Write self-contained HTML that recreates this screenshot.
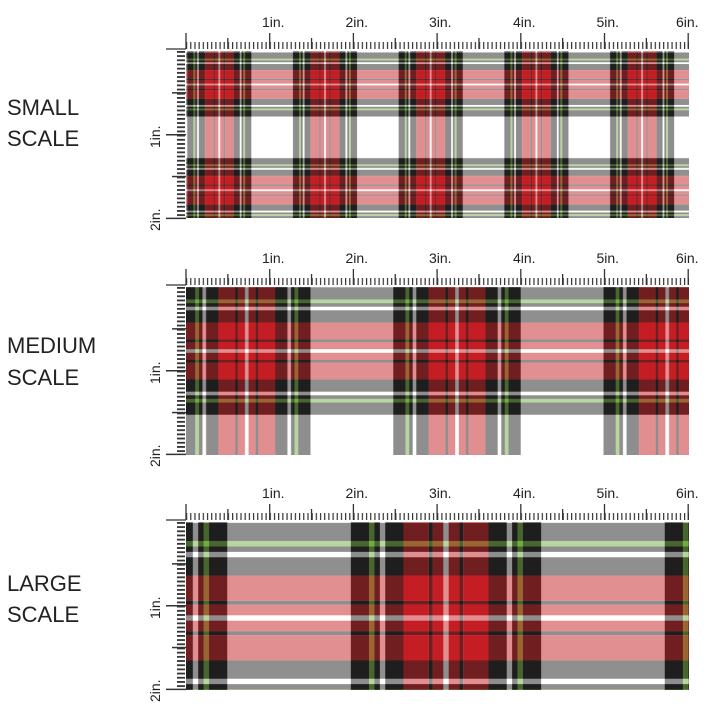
<!DOCTYPE html>
<html><head><meta charset="utf-8"><style>
html,body{margin:0;padding:0;background:#fff;}
svg{display:block;}
text{font-family:"Liberation Sans",sans-serif;fill:#222;}
</style></head><body>
<svg width="720" height="720" viewBox="0 0 720 720" xmlns="http://www.w3.org/2000/svg">
<defs>
<g id="v">
<rect x="0" y="0" width="292" height="292" fill="#fff"/>
<rect x="2.5" y="0" width="10" height="292" fill="#c41e24"/>
<rect x="12.5" y="0" width="3.5" height="292" fill="#1e1e1e"/>
<rect x="16" y="0" width="23.5" height="292" fill="#c41e24"/>
<rect x="39.5" y="0" width="17" height="292" fill="#1e1e1e"/>
<rect x="61.5" y="0" width="5" height="292" fill="#1e1e1e"/>
<rect x="66.5" y="0" width="5" height="292" fill="#6fae3c"/>
<rect x="71.5" y="0" width="17" height="292" fill="#1e1e1e"/>
<rect x="203.5" y="0" width="17" height="292" fill="#1e1e1e"/>
<rect x="220.5" y="0" width="5" height="292" fill="#6fae3c"/>
<rect x="225.5" y="0" width="5" height="292" fill="#1e1e1e"/>
<rect x="235.5" y="0" width="17" height="292" fill="#1e1e1e"/>
<rect x="252.5" y="0" width="23.5" height="292" fill="#c41e24"/>
<rect x="276" y="0" width="3.5" height="292" fill="#1e1e1e"/>
<rect x="279.5" y="0" width="10" height="292" fill="#c41e24"/>
</g>
<g id="tile">
<use href="#v" transform="matrix(0 1 1 0 0 0)"/>
<g opacity="0.5"><use href="#v"/></g>
</g>
<pattern id="pS" patternUnits="userSpaceOnUse" width="292" height="292" patternTransform="translate(325 84.5) scale(0.362)"><use href="#tile"/></pattern>
<pattern id="pM" patternUnits="userSpaceOnUse" width="292" height="292" patternTransform="translate(457 351) scale(0.72)"><use href="#tile"/></pattern>
<pattern id="pL" patternUnits="userSpaceOnUse" width="292" height="292" patternTransform="translate(446 618) scale(1.075)"><use href="#tile"/></pattern>
<pattern id="tx" patternUnits="userSpaceOnUse" x="186" y="0" width="4.185" height="720"><rect x="0" y="0" width="1.2" height="720" fill="#333"/></pattern>
<pattern id="tyS" patternUnits="userSpaceOnUse" x="0" y="51" width="720" height="4.185"><rect x="0" y="0" width="720" height="1.8" fill="#333"/></pattern>
<pattern id="tyM" patternUnits="userSpaceOnUse" x="0" y="287" width="720" height="4.185"><rect x="0" y="0" width="720" height="1.8" fill="#333"/></pattern>
<pattern id="tyL" patternUnits="userSpaceOnUse" x="0" y="522" width="720" height="4.185"><rect x="0" y="0" width="720" height="1.8" fill="#333"/></pattern>
<g id="topr" stroke="#333" stroke-width="1.3">
<line x1="186" y1="-18" x2="186" y2="-2"/>
<line x1="269.7" y1="-18" x2="269.7" y2="-2"/>
<line x1="353.4" y1="-18" x2="353.4" y2="-2"/>
<line x1="437.1" y1="-18" x2="437.1" y2="-2"/>
<line x1="520.8" y1="-18" x2="520.8" y2="-2"/>
<line x1="604.5" y1="-18" x2="604.5" y2="-2"/>
<line x1="688.2" y1="-18" x2="688.2" y2="-2"/>
<line x1="227.85" y1="-13" x2="227.85" y2="-2"/>
<line x1="311.55" y1="-13" x2="311.55" y2="-2"/>
<line x1="395.25" y1="-13" x2="395.25" y2="-2"/>
<line x1="478.95" y1="-13" x2="478.95" y2="-2"/>
<line x1="562.65" y1="-13" x2="562.65" y2="-2"/>
<line x1="646.35" y1="-13" x2="646.35" y2="-2"/>
<line x1="166" y1="-2" x2="186" y2="-2"/>
</g>
<g id="topl" font-size="14">
<text x="262" y="-24">1in.</text>
<text x="345.5" y="-24">2in.</text>
<text x="429" y="-24">3in.</text>
<text x="513" y="-24">4in.</text>
<text x="596.5" y="-24">5in.</text>
<text x="676" y="-24">6in.</text>
</g>
<g id="leftr" stroke="#333" stroke-width="1.5">
<line x1="166" y1="83.7" x2="186" y2="83.7"/>
<line x1="166" y1="167.4" x2="186" y2="167.4"/>
<line x1="172" y1="41.85" x2="186" y2="41.85"/>
<line x1="172" y1="125.55" x2="186" y2="125.55"/>
</g>
</defs>

<g font-size="22">
<text x="7" y="115">SMALL</text><text x="7" y="146">SCALE</text>
<text x="7" y="353">MEDIUM</text><text x="7" y="385">SCALE</text>
<text x="7" y="591">LARGE</text><text x="7" y="622">SCALE</text>
</g>

<rect x="186" y="51" width="503" height="167" fill="url(#pS)"/>
<rect x="186" y="42" width="503" height="7" fill="url(#tx)"/>
<rect x="177" y="51" width="8" height="167" fill="url(#tyS)"/>
<g transform="translate(0 51)"><use href="#topr"/><use href="#topl"/><use href="#leftr"/></g>
<text font-size="14" transform="translate(160 148) rotate(-90)">1in.</text>
<text font-size="14" transform="translate(160 231) rotate(-90)">2in.</text>

<rect x="186" y="287" width="503" height="168" fill="url(#pM)"/>
<rect x="186" y="278" width="503" height="7" fill="url(#tx)"/>
<rect x="177" y="287" width="8" height="168" fill="url(#tyM)"/>
<g transform="translate(0 287)"><use href="#topr"/><use href="#topl"/><use href="#leftr"/></g>
<text font-size="14" transform="translate(160 384) rotate(-90)">1in.</text>
<text font-size="14" transform="translate(160 467) rotate(-90)">2in.</text>

<rect x="186" y="522" width="503" height="168" fill="url(#pL)"/>
<rect x="186" y="513" width="503" height="7" fill="url(#tx)"/>
<rect x="177" y="522" width="8" height="168" fill="url(#tyL)"/>
<g transform="translate(0 522)"><use href="#topr"/><use href="#topl"/><use href="#leftr"/></g>
<text font-size="14" transform="translate(160 619) rotate(-90)">1in.</text>
<text font-size="14" transform="translate(160 702) rotate(-90)">2in.</text>
</svg>
</body></html>
